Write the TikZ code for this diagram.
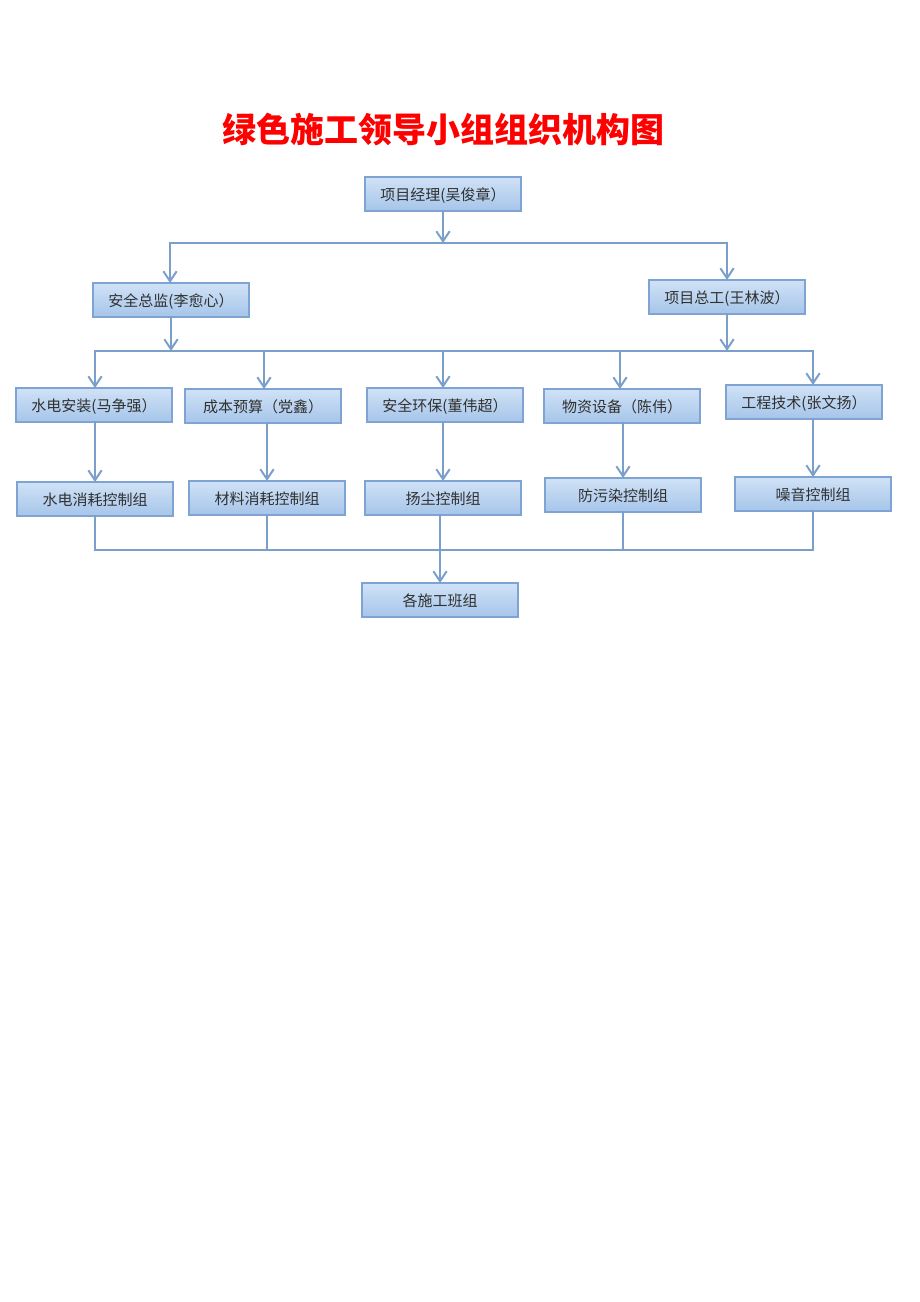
\documentclass[tikz,border=0pt]{standalone}
\usepackage{fontspec}
\newfontfamily\cjk{Noto Sans CJK SC}
\usetikzlibrary{arrows.meta}
\definecolor{boxtop}{HTML}{D0E2F6}
\definecolor{boxbot}{HTML}{A6C5EA}
\definecolor{boxline}{HTML}{7FA4D4}
\definecolor{wire}{HTML}{7A9FCB}
\definecolor{txt}{HTML}{303030}
\begin{document}
\begin{tikzpicture}[x=0.75pt,y=-0.75pt,
    unit/.style={draw=boxline,line width=1.3pt,top color=boxtop,bottom color=boxbot,
      minimum width=117pt,minimum height=25.5pt,inner sep=0pt,outer sep=0pt,text=txt,
      text height=1.0em,text depth=0em,
      font=\cjk\fontsize{11.25}{13}\selectfont},
    link/.style={draw=wire,line width=1.5pt,line cap=rect},
    feed/.style={link,-{Straight Barb[length=7.5pt,width=10pt]}}]
  \fill[white] (0,0) rectangle (920,1302);
  \path[use as bounding box] (0,0) rectangle (920,1302);
  \node[text=red,font=\cjk\bfseries\fontsize{25.5}{28}\selectfont] (title) at (443,130) {绿色施工领导小组组织机构图};
  \draw
    (443,194) node[unit] (pm) {项目经理(吴俊章）}
    (171,300) node[unit] (sd) {安全总监(李愈心）}
    (727,297) node[unit] (ze) {项目总工(王林波）}
    (94,405) node[unit] (sh) {水电安装(马争强）}
    (263,406) node[unit] (cb) {成本预算（党鑫）}
    (445,405) node[unit] (aq) {安全环保(董伟超）}
    (622,406) node[unit] (wz) {物资设备（陈伟）}
    (804,402) node[unit] (gc) {工程技术(张文扬）}
    (95,499) node[unit] (sx) {水电消耗控制组}
    (267,498) node[unit] (cl) {材料消耗控制组}
    (443,498) node[unit] (yc) {扬尘控制组}
    (623,495) node[unit] (fw) {防污染控制组}
    (813,494) node[unit] (zy) {噪音控制组}
    (440,600) node[unit] (bz) {各施工班组};
  % buses
  \coordinate (b1l) at (170,243);
  \coordinate (b1r) at (727,243);
  \coordinate (b2a) at (95,351);
  \coordinate (b2b) at (264,351);
  \coordinate (b2c) at (443,351);
  \coordinate (b2d) at (620,351);
  \coordinate (b2e) at (813,351);
  \coordinate (b3l) at (95,550);
  \coordinate (b3r) at (813,550);
  \begin{scope}[feed]
    \draw (pm.south) to (pm.south |- b1l);
    \draw (b1l) to (b1l |- sd.north);
    \draw (b1r) to (b1r |- ze.north);
    \draw (sd.south) to (sd.south |- b2a);
    \draw (ze.south) to (ze.south |- b2a);
    \draw (b2a) to (b2a |- sh.north);
    \draw (b2b) to (b2b |- cb.north);
    \draw (b2c) to (b2c |- aq.north);
    \draw (b2d) to (b2d |- wz.north);
    \draw (b2e) to (b2e |- gc.north);
    \draw (sh.south -| sx) to (sx.north);
    \draw (cb.south -| cl) to (cl.north);
    \draw (aq.south -| yc) to (yc.north);
    \draw (wz.south -| fw) to (fw.north);
    \draw (gc.south -| zy) to (zy.north);
    \draw (yc.south -| bz) to (bz.north);
  \end{scope}
  \begin{scope}[link]
    \draw (b1l) to (b1r);
    \draw (b2a) to (b2e);
    \draw (b3l) to (b3r);
    \draw (sx.south) to (sx.south |- b3l);
    \draw (cl.south) to (cl.south |- b3l);
    \draw (fw.south) to (fw.south |- b3l);
    \draw (zy.south) to (zy.south |- b3l);
  \end{scope}
\end{tikzpicture}
\end{document}
